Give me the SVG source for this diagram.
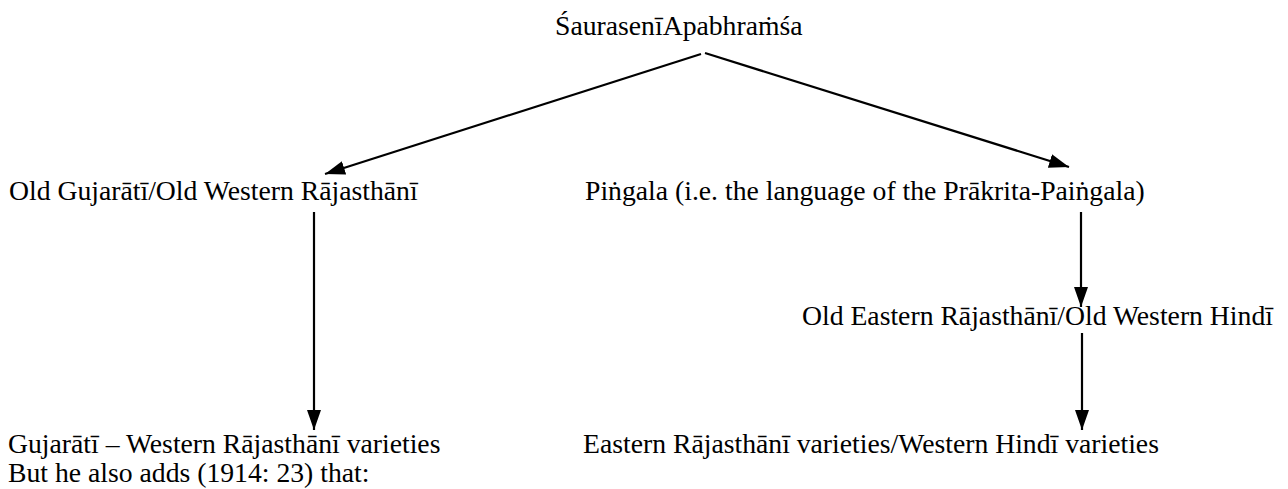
<svg xmlns="http://www.w3.org/2000/svg" width="1288" height="489" viewBox="0 0 1288 489">
<style>
text{font-family:"Liberation Serif","Times New Roman",serif;font-size:27.7px;fill:#000}
.c{stroke:#000;stroke-width:2.2;fill:none}
</style>
<defs>
<marker id="ah" markerUnits="userSpaceOnUse" markerWidth="22" markerHeight="16" refX="20" refY="7" orient="auto">
<path d="M0,0 L20,7 L0,14 z" fill="#000"/>
</marker>
</defs>
<rect width="1288" height="489" fill="#fff"/>
<g id="connectors">
<line class="c" x1="701" y1="54" x2="325" y2="174" marker-end="url(#ah)"/>
<line class="c" x1="705" y1="53" x2="1069" y2="167" marker-end="url(#ah)"/>
<line class="c" x1="314" y1="212" x2="314" y2="430" marker-end="url(#ah)"/>
<line class="c" x1="1081" y1="212" x2="1081" y2="307" marker-end="url(#ah)"/>
<line class="c" x1="1082" y1="333" x2="1082" y2="430" marker-end="url(#ah)"/>
</g>
<g id="root"><text x="555" y="35">ŚaurasenīApabhraṁśa</text></g>
<g id="old-gujarati"><text x="9" y="200">Old Gujarātī/Old Western Rājasthānī</text></g>
<g id="pingala"><text x="585" y="200">Piṅgala (i.e. the language of the Prākrita-Paiṅgala)</text></g>
<g id="old-eastern"><text x="802" y="325">Old Eastern Rājasthānī/Old Western Hindī</text></g>
<g id="gujarati"><text x="8" y="453">Gujarātī – Western Rājasthānī varieties</text></g>
<g id="eastern"><text x="583" y="453">Eastern Rājasthānī varieties/Western Hindī varieties</text></g>
<text x="8" y="482">But he also adds (1914: 23) that:</text>
</svg>
